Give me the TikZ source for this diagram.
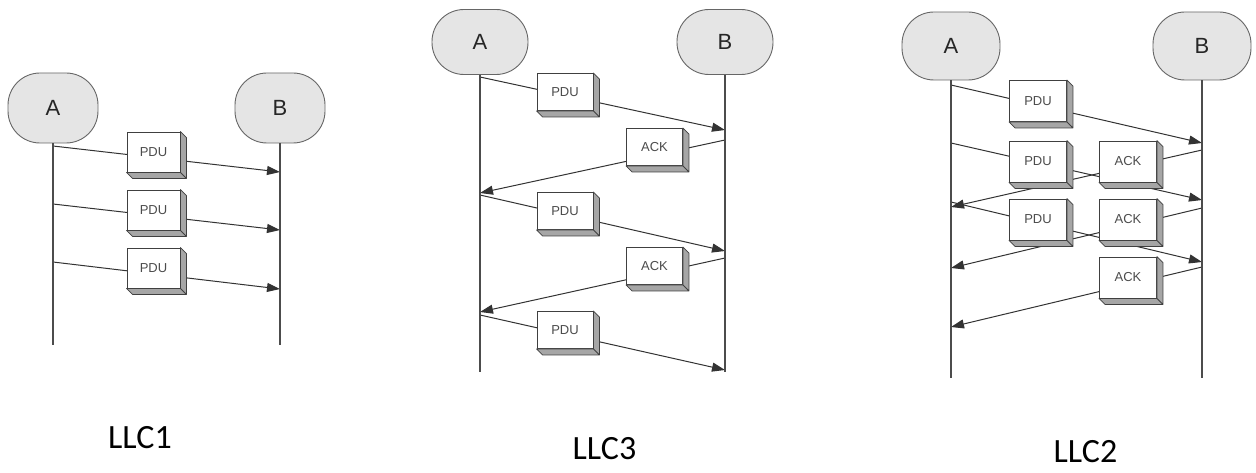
\documentclass[tikz,border=0pt]{standalone}
\usepackage{fontspec}
\setmainfont{Liberation Sans}
\newfontfamily\capfont{Carlito}
\usepackage{tikz}
\usetikzlibrary{positioning, arrows.meta, backgrounds}

\begin{document}
\begin{tikzpicture}[
		x=1pt, y=-1pt,
		station/.style={rectangle, rounded corners=32pt, draw=black!60, fill=black!10, line width=0.9pt, minimum width=96pt, minimum height=66pt, font=\fontsize{22}{26}\selectfont, text=black!85},
		pdubox/.style={rectangle, draw=black!75, fill=white, line width=0.9pt, inner sep=0pt, font=\fontsize{13}{15}\selectfont, text=black!70},
		bevel/.style={draw=black!75, fill=black!35, line width=0.8pt, line join=round},
		life/.style={draw=black!70, line width=1.1pt},
		msg/.style={draw=black!80, line width=1pt, -{Triangle[length=13pt, width=9pt]}},
		paneltitle/.style={inner sep=0pt, font=\capfont\fontsize{34}{40}\selectfont},
		]
		\useasboundingbox (0,0) rectangle (1256,473);
		
		% LLC1
		\node[station, minimum width=90pt, minimum height=70pt] (a1) at (53,108) {A};
		\node[station, minimum width=90pt, minimum height=70pt] (b1) at (280,108) {B};
		\coordinate (a1end) at (53,345);
		\coordinate (b1end) at (280,345);
		\draw[life] (a1.south) -- (a1end);
		\draw[life] (b1.south) -- (b1end);
		\foreach \i/\ya/\yb/\yc in {1/146/172/152, 2/204/230/210, 3/262/289/268} {
			\coordinate (a1m\i) at (53,\ya);
			\coordinate (b1m\i) at (280,\yb);
			\node[pdubox, minimum width=53pt, minimum height=40pt] (l1pdu\i) at (153.5,\yc) {PDU};
			\begin{scope}[on background layer]
				\draw[msg] (a1m\i) -- (b1m\i);
			\end{scope}
		}
		
		% LLC3
		\node[station, minimum height=65pt] (a3) at (480,42) {A};
		\node[station, minimum height=65pt] (b3) at (725,42) {B};
		\coordinate (a3end) at (480,372);
		\coordinate (b3end) at (725,372);
		\draw[life] (a3.south) -- (a3end);
		\draw[life] (b3.south) -- (b3end);
		\foreach \i/\ya/\yb/\yc in {1/77/130/92, 2/195/251/211, 3/315/370/330} {
			\coordinate (a3p\i) at (480,\ya);
			\coordinate (b3p\i) at (725,\yb);
			\node[pdubox, minimum width=56pt, minimum height=37pt] (l3pdu\i) at (565,\yc) {PDU};
			\begin{scope}[on background layer]
				\draw[msg] (a3p\i) -- (b3p\i);
			\end{scope}
		}
		\foreach \i/\yb/\ya/\yc in {1/140/193/147, 2/258/312/266} {
			\coordinate (b3a\i) at (725,\yb);
			\coordinate (a3a\i) at (480,\ya);
			\node[pdubox, minimum width=56pt, minimum height=37pt] (l3ack\i) at (654.5,\yc) {ACK};
			\begin{scope}[on background layer]
				\draw[msg] (b3a\i) -- (a3a\i);
			\end{scope}
		}
		
		% LLC2
		\node[station, minimum width=98pt, minimum height=68pt] (a2) at (951,46) {A};
		\node[station, minimum width=98pt, minimum height=68pt] (b2) at (1202,46) {B};
		\coordinate (a2end) at (951,378);
		\coordinate (b2end) at (1202,378);
		\draw[life] (a2.south) -- (a2end);
		\draw[life] (b2.south) -- (b2end);
		\foreach \i/\ya/\yb/\yc in {1/85/143/101, 2/143/200/161.5, 3/202/262/219.5} {
			\coordinate (a2p\i) at (951,\ya);
			\coordinate (b2p\i) at (1202,\yb);
			\node[pdubox, minimum width=57pt, minimum height=41pt] (l2pdu\i) at (1038,\yc) {PDU};
			\begin{scope}[on background layer]
				\draw[msg] (a2p\i) -- (b2p\i);
			\end{scope}
		}
		\foreach \i/\yb/\ya/\yc in {1/150/207/161.5, 2/208/268/219.5, 3/267/327/277.5} {
			\coordinate (b2a\i) at (1202,\yb);
			\coordinate (a2a\i) at (951,\ya);
			\node[pdubox, minimum width=57pt, minimum height=41pt] (l2ack\i) at (1128,\yc) {ACK};
			\begin{scope}[on background layer]
				\draw[msg] (b2a\i) -- (a2a\i);
			\end{scope}
		}
		
		% box depth
		\foreach \b in {l1pdu1,l1pdu2,l1pdu3,l3pdu1,l3pdu2,l3pdu3,l3ack1,l3ack2,l2pdu1,l2pdu2,l2pdu3,l2ack1,l2ack2,l2ack3} {
			\draw[bevel] (\b.north east) -- ++(6,6) -- ([shift={(6,6)}]\b.south east) -- ([shift={(6,6)}]\b.south west) -- (\b.south west) -- (\b.south east) -- cycle (\b.south east) -- ++(6,6);
		}
		
		\node[paneltitle] (t1) at (140,437.5) {LLC1};
		\node[paneltitle] (t3) at (604.5,448.5) {LLC3};
		\node[paneltitle] (t2) at (1085.5,452) {LLC2};
\end{tikzpicture}
\end{document}
